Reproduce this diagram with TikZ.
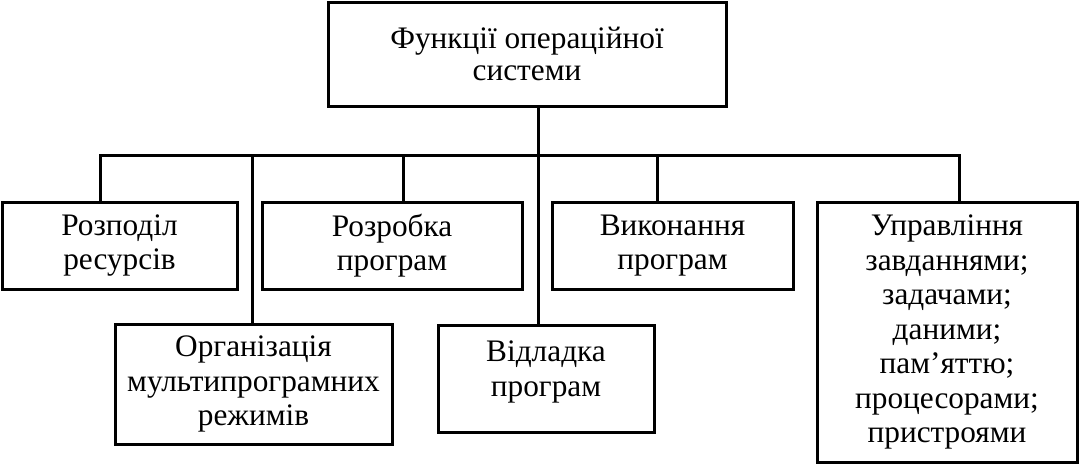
\documentclass[tikz,border=0pt]{standalone}
\usepackage{fontspec}
\setmainfont{Liberation Serif}
\begin{document}
\begin{tikzpicture}[x=1pt,y=-1pt,
  txt/.style={inner sep=0pt, align=center, font=\fontsize{31.3}{34.5}\selectfont},
  box/.style={txt, draw, line width=3pt},
  link/.style={line width=3pt}]
\useasboundingbox (0,0) rectangle (1079,464);
\node[box, minimum width=398pt, minimum height=104pt, font=\fontsize{31.3}{32}\selectfont] (top) at (527,54) {Функції операційної\\системи};
\node[box, minimum width=235pt, minimum height=87pt] (r1) at (119.5,245.5) {Розподіл\\ресурсів};
\node[box, minimum width=260pt, minimum height=87pt] (r2) at (392,245.5) {Розробка\\програм};
\node[box, minimum width=241pt, minimum height=87pt] (r3) at (672.5,245.5) {Виконання\\програм};
\node[box, minimum width=260pt, minimum height=260pt] (r4) at (947,332) {Управління\\завданнями;\\задачами;\\даними;\\пам’яттю;\\процесорами;\\пристроями};
\node[box, minimum width=277pt, minimum height=120pt] (org) at (253.5,384) {Організація\\мультипрограмних\\режимів};
\node[box, minimum width=216pt, minimum height=107pt] (vid) at (546,378.5) {};
\node[txt] (vidtext) at (546,372) {Відладка\\програм};
\coordinate (t) at (538,155);
\coordinate (b1) at (100,155);
\coordinate (b2) at (252,155);
\coordinate (b3) at (403,155);
\coordinate (b5) at (657,155);
\coordinate (b6) at (959,155);
\draw[link] (t |- top.south) -- (t);
\draw[link, line cap=rect] (b1) -- (b6);
\draw[link] (b1) -- (b1 |- r1.north);
\draw[link] (b2) -- (b2 |- org.north);
\draw[link] (b3) -- (b3 |- r2.north);
\draw[link] (t) -- (t |- vid.north);
\draw[link] (b5) -- (b5 |- r3.north);
\draw[link] (b6) -- (b6 |- r4.north);
\end{tikzpicture}
\end{document}
